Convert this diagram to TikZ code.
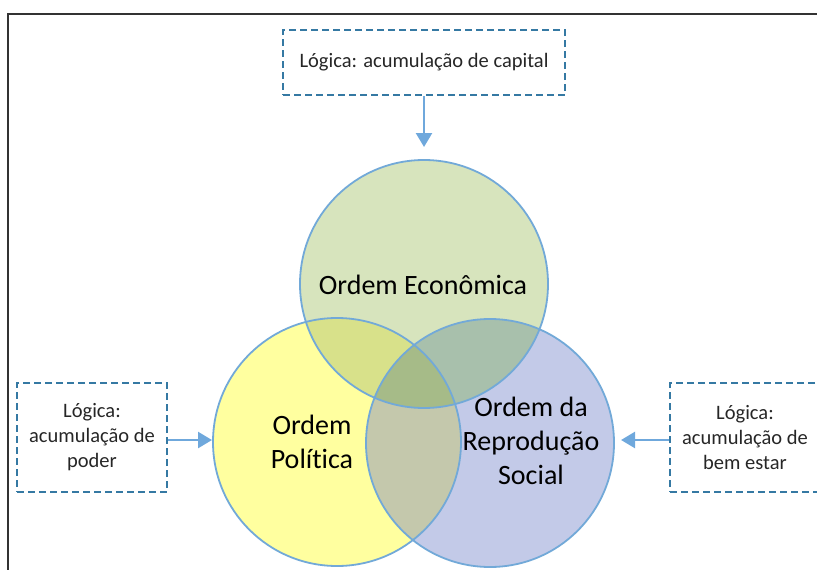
\documentclass[tikz,border=0pt]{standalone}
\usepackage{fontspec}
\setmainfont[Ligatures=NoCommon]{Carlito}
\usetikzlibrary{arrows.meta}
\definecolor{cY}{HTML}{FFFF9F}
\definecolor{cG}{HTML}{D7E4BD}
\definecolor{cB}{HTML}{C3CAE8}
\definecolor{cYG}{HTML}{D8E18A}
\definecolor{cYB}{HTML}{C4C8AC}
\definecolor{cGB}{HTML}{A8C0AC}
\definecolor{cYGB}{HTML}{A6BB88}
\definecolor{edge}{HTML}{72A9D8}
\definecolor{dash}{HTML}{3579A3}
\definecolor{arr}{HTML}{6FA8DC}
\definecolor{txt}{HTML}{262626}
\tikzset{
  logbox/.style={draw=dash, line width=2.2pt, dash pattern=on 7pt off 4pt, font=\fontsize{20.5}{25}\selectfont, text=txt, align=center, inner sep=0pt},
  circlabel/.style={font=\fontsize{28}{34}\selectfont, text=black, align=center},
  feed/.style={draw=arr, line width=2.5pt, -{Triangle[length=14pt,width=16pt]}},
  ring/.style={draw=edge, line width=1.8pt}
}
\begin{document}
\begin{tikzpicture}[x=1pt,y=-1pt]
\useasboundingbox (0,0) rectangle (817,570);
\begin{scope}
\clip (0,0) rectangle (817,570);
% frame
\draw[line width=1.5pt, draw=black!80] (8,570) -- (8,14) -- (830,14);
% circle centres
\coordinate (cg) at (424,284);
\coordinate (cy) at (337,442);
\coordinate (cb) at (490,443);
\def\R{124pt}
% fills
\fill[cY] (cy) circle[radius=\R];
\fill[cB] (cb) circle[radius=\R];
\fill[cG] (cg) circle[radius=\R];
\begin{scope}\clip (cy) circle[radius=\R]; \fill[cYB] (cb) circle[radius=\R];\end{scope}
\begin{scope}\clip (cy) circle[radius=\R]; \fill[cYG] (cg) circle[radius=\R];\end{scope}
\begin{scope}\clip (cg) circle[radius=\R]; \fill[cGB] (cb) circle[radius=\R];\end{scope}
\begin{scope}\clip (cy) circle[radius=\R]; \clip (cg) circle[radius=\R]; \fill[cYGB] (cb) circle[radius=\R];\end{scope}
% outlines
\draw[ring] (cy) circle[radius=\R];
\draw[ring] (cb) circle[radius=\R];
\draw[ring] (cg) circle[radius=\R];
% labels
\node[circlabel] (econ) at (423,285) {Ordem Econômica};
\node[circlabel] (pol) at (312,442) {Ordem\\Política};
\node[circlabel] (soc) at (531,441) {Ordem da\\Reprodução\\Social};
% boxes
\node[logbox, minimum width=282pt, minimum height=65pt] (top) at (424,62.5) {Lógica: acumulação de capital};
\node[logbox, minimum width=150pt, minimum height=109pt] (left) at (92,437.5) {Lógica:\\acumulação de\\poder};
\node[logbox, minimum width=150pt, minimum height=109pt] (right) at (745,437.5) {Lógica:\\acumulação de\\bem estar};
% arrow targets
\coordinate (tg) at (424,147);
\coordinate (ty) at (212,440);
\coordinate (tb) at (621,440);
\draw[feed] (top.south) -- (tg);
\draw[feed] (left.east |- ty) -- (ty);
\draw[feed] (right.west |- tb) -- (tb);
\end{scope}
\end{tikzpicture}
\end{document}
